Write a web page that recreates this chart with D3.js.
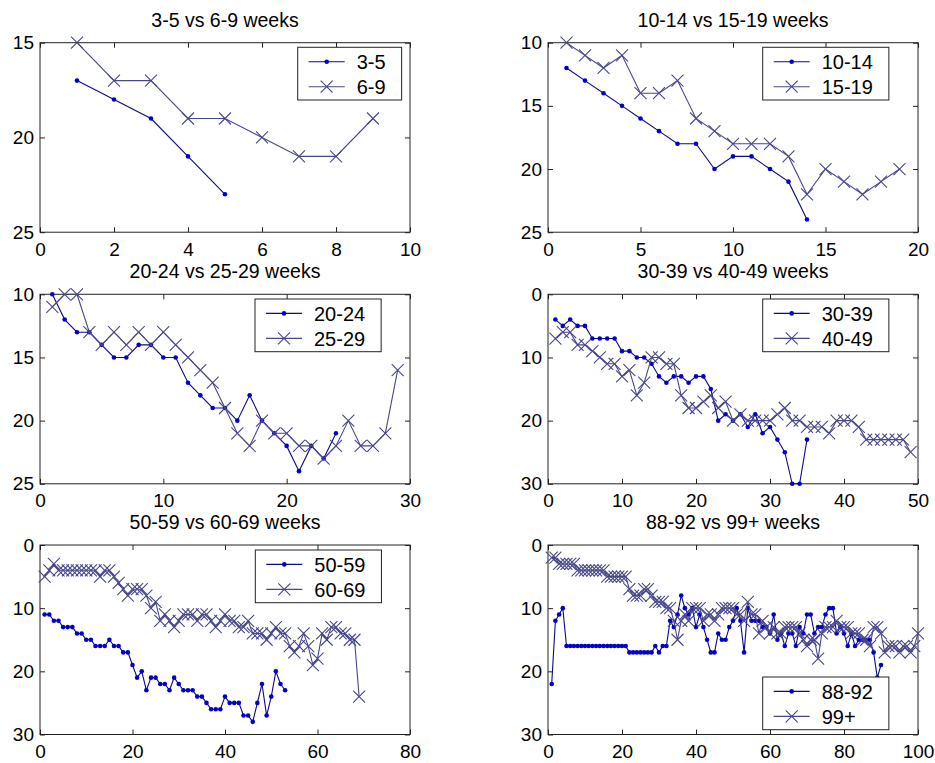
<!DOCTYPE html>
<html>
<head>
<meta charset="utf-8">
<script src="https://cdn.jsdelivr.net/npm/d3@7/dist/d3.min.js"></script>
<style>
  body { margin: 0; background: #fff; }
  svg text { font-family: "Liberation Sans", Arial, sans-serif; fill: #000; }
  .axis text { font-size: 19px; }
  .title { font-size: 19.5px; }
  .legend text { font-size: 20px; }
</style>
</head>
<body>
<svg id="chart" width="935" height="763"></svg>
<script>
// values, one array per series (x = 1, 2, 3 ...)
var w3_5   = [17, 18, 19, 21, 23];
var w6_9   = [15, 17, 17, 19, 19, 20, 21, 21, 19];

var w10_14 = [12, 13, 14, 15, 16, 17, 18, 18, 20, 19, 19, 20, 21, 24];
var w15_19 = [10, 11, 12, 11, 14, 14, 13, 16, 17, 18, 18, 18, 19, 22, 20, 21, 22, 21, 20];

var w20_24 = [10, 12, 13, 13, 14, 15, 15, 14, 14, 15, 15, 17, 18, 19, 19, 20, 18, 20, 21, 22, 24, 22, 23, 21];
var w25_29 = [11, 10, 10, 13, 14, 13, 14, 13, 14, 13, 14, 15, 16, 17, 19, 21, 22, 20, 21, 21, 22, 22, 23, 22, 20,
              22, 22, 21, 16];

var w30_39 = [4, 5, 4, 5, 5, 7, 7, 7, 7, 9, 9, 10, 10, 11, 13, 14, 13, 13, 14, 13, 13, 15, 20, 19, 20, 19, 21, 19,
              22, 21, 23, 25, 30, 30, 23];
var w40_49 = [7, 6, 6, 8, 8, 9, 10, 11, 11, 13, 12, 16, 14, 10, 10, 11, 11, 16, 18, 18, 17, 16, 18, 17, 20, 19, 20,
              20, 20, 20, 19, 18, 20, 20, 21, 21, 21, 22, 20, 20, 20, 21, 23, 23, 23, 23, 23, 23, 25];

var w50_59 = [11, 11, 12, 12, 13, 13, 13, 14, 14, 15, 15, 16, 16, 16, 15, 16, 16, 17, 17, 19, 21, 20, 23, 21, 21,
              22, 22, 23, 21, 22, 23, 23, 23, 24, 24, 25, 26, 26, 26, 24, 25, 25, 25, 27, 27, 28, 25, 22, 27, 24,
              20, 22, 23];
var w60_69 = [5, 4, 3, 4, 4, 4, 4, 4, 4, 4, 4, 4, 5, 4, 4, 5, 6, 7, 8, 7, 7, 7, 8, 10, 9, 12, 11, 12, 13, 12, 11,
              11, 11, 12, 11, 11, 12, 13, 12, 11, 12, 12, 13, 13, 12, 14, 14, 14, 15, 14, 13, 14, 14, 16, 17, 16,
              14, 16, 19, 18, 14, 15, 13, 13, 14, 14, 15, 15, 24];

var w88_92 = [22, 12, 11, 10, 16, 16, 16, 16, 16, 16, 16, 16, 16, 16, 16, 16, 16, 16, 16, 16, 16, 17, 17, 17, 17,
              17, 17, 17, 16, 17, 16, 16, 12, 13, 11, 8, 10, 11, 10, 13, 11, 13, 15, 17, 17, 14, 15, 15, 13, 12,
              10, 12, 17, 10, 12, 12, 12, 13, 13, 14, 11, 15, 14, 16, 14, 14, 16, 13, 14, 11, 11, 14, 13, 13, 11,
              10, 10, 14, 13, 14, 16, 14, 16, 15, 15, 15, 15, 17, 21, 19];
var w99    = [2, 2, 3, 3, 3, 3, 3, 4, 4, 4, 4, 4, 4, 4, 4, 5, 5, 5, 5, 5, 5, 7, 8, 8, 8, 7, 7, 8, 9, 9, 9, 10, 10,
              12, 15, 12, 11, 12, 10, 10, 10, 12, 11, 11, 12, 11, 10, 10, 10, 10, 11, 11, 12, 9, 11, 11, 14, 12,
              13, 14, 13, 14, 14, 13, 13, 13, 13, 14, 15, 16, 15, 15, 18, 14, 13, 13, 13, 12, 13, 13, 13, 14, 14,
              14, 15, 15, 16, 13, 13, 14, 17, 16, 16, 16, 17, 16, 16, 17, 16, 14];

// tick labels
var xTicks10  = [0, 2, 4, 6, 8, 10];
var xTicks20  = [0, 5, 10, 15, 20];
var xTicks30  = [0, 10, 20, 30];
var xTicks50  = [0, 10, 20, 30, 40, 50];
var xTicks80  = [0, 20, 40, 60, 80];
var xTicks100 = [0, 20, 40, 60, 80, 100];
var yTicks15_25 = [15, 20, 25];
var yTicks10_25 = [10, 15, 20, 25];
var yTicks0_30  = [0, 10, 20, 30];

var W = 370, H = 189.5;

var panels = [
  {title: "3-5 vs 6-9 weeks",     names: ["3-5", "6-9"],     a: w3_5,   b: w6_9,
   xTicks: xTicks10,  yTicks: yTicks15_25, left: 40,  top: 42.7, lx: 257.7, ly: 4.6},
  {title: "10-14 vs 15-19 weeks", names: ["10-14", "15-19"], a: w10_14, b: w15_19,
   xTicks: xTicks20,  yTicks: yTicks10_25, left: 548, top: 42.7, lx: 214.7, ly: 4.6},
  {title: "20-24 vs 25-29 weeks", names: ["20-24", "25-29"], a: w20_24, b: w25_29,
   xTicks: xTicks30,  yTicks: yTicks10_25, left: 40,  top: 294.3, lx: 215, ly: 4.7},
  {title: "30-39 vs 40-49 weeks", names: ["30-39", "40-49"], a: w30_39, b: w40_49,
   xTicks: xTicks50,  yTicks: yTicks0_30,  left: 548, top: 294.3, lx: 214.7, ly: 4.7},
  {title: "50-59 vs 60-69 weeks", names: ["50-59", "60-69"], a: w50_59, b: w60_69,
   xTicks: xTicks80,  yTicks: yTicks0_30,  left: 40,  top: 545, lx: 215.3, ly: 5},
  {title: "88-92 vs 99+ weeks",   names: ["88-92", "99+"],   a: w88_92, b: w99,
   xTicks: xTicks100, yTicks: yTicks0_30,  left: 548, top: 545, lx: 214.7, ly: 132}
];

var colA = "#0a0a82", dotA = "#0000c8", colB = "#46468a";
var crossPath = "M-6,-6L6,6M-6,6L6,-6";

var svg = d3.select("#chart");

panels.forEach(function(p) {
  var g = svg.append("g")
    .attr("transform", "translate(" + p.left + "," + p.top + ")");

  var x = d3.scaleLinear()
    .domain(d3.extent(p.xTicks))
    .range([0, W]);

  var y = d3.scaleLinear()
    .domain(d3.extent(p.yTicks))
    .range([0, H]);

  // ticks point inward on all four sides, labels only left and bottom
  g.append("g").attr("class", "axis")
    .call(d3.axisLeft(y).tickValues(p.yTicks).tickSizeInner(-5).tickSizeOuter(0).tickPadding(6));
  g.append("g").attr("class", "axis")
    .attr("transform", "translate(0," + H + ")")
    .call(d3.axisBottom(x).tickValues(p.xTicks).tickSizeInner(-5).tickSizeOuter(0).tickPadding(10));
  g.append("g").attr("class", "axis")
    .call(d3.axisTop(x).tickValues(p.xTicks).tickSizeInner(-5).tickSizeOuter(0).tickFormat(""));
  g.append("g").attr("class", "axis")
    .attr("transform", "translate(" + W + ",0)")
    .call(d3.axisRight(y).tickValues(p.yTicks).tickSizeInner(-5).tickSizeOuter(0).tickFormat(""));
  g.selectAll(".domain").remove();
  g.selectAll(".tick line").attr("stroke", "#222");

  g.append("rect")
    .attr("width", W)
    .attr("height", H)
    .attr("fill", "none")
    .attr("stroke", "#222")
    .attr("stroke-width", 1);

  g.append("text")
    .attr("class", "title")
    .attr("x", W / 2)
    .attr("y", -16)
    .attr("text-anchor", "middle")
    .text(p.title);

  var line = d3.line()
    .x(function(d, i) { return x(i + 1); })
    .y(function(d) { return y(d); });

  g.append("path")
    .datum(p.a)
    .attr("fill", "none")
    .attr("stroke", colA)
    .attr("stroke-width", 1.1)
    .attr("d", line);

  g.selectAll(".dotA")
    .data(p.a)
    .enter().append("circle")
    .attr("cx", function(d, i) { return x(i + 1); })
    .attr("cy", function(d) { return y(d); })
    .attr("r", 2.3)
    .attr("fill", dotA);

  g.append("path")
    .datum(p.b)
    .attr("fill", "none")
    .attr("stroke", colB)
    .attr("stroke-width", 1.1)
    .attr("d", line);

  g.selectAll(".crossB")
    .data(p.b)
    .enter().append("path")
    .attr("transform", function(d, i) { return "translate(" + x(i + 1) + "," + y(d) + ")"; })
    .attr("d", crossPath)
    .attr("fill", "none")
    .attr("stroke", colB)
    .attr("stroke-width", 1.1);

  // legend
  var lg = g.append("g")
    .attr("class", "legend")
    .attr("transform", "translate(" + p.lx + "," + p.ly + ")");
  var box = lg.append("rect")
    .attr("height", 52.7)
    .attr("fill", "#fff")
    .attr("stroke", "#222");
  var maxW = 0;
  p.names.forEach(function(name, k) {
    var cy = 14.4 + k * 25;
    lg.append("line")
      .attr("x1", 11).attr("x2", 47)
      .attr("y1", cy).attr("y2", cy)
      .attr("stroke", k ? colB : colA)
      .attr("stroke-width", 1.1);
    if (k) {
      lg.append("path")
        .attr("transform", "translate(29," + cy + ")")
        .attr("d", crossPath)
        .attr("fill", "none")
        .attr("stroke", colB)
        .attr("stroke-width", 1.1);
    } else {
      lg.append("circle")
        .attr("cx", 29).attr("cy", cy).attr("r", 2.3)
        .attr("fill", dotA);
    }
    var t = lg.append("text")
      .attr("x", 59)
      .attr("y", cy)
      .attr("dy", "0.36em")
      .text(name);
    maxW = Math.max(maxW, t.node().getComputedTextLength());
  });
  box.attr("width", 59 + maxW + 16);
});
</script>
</body>
</html>
